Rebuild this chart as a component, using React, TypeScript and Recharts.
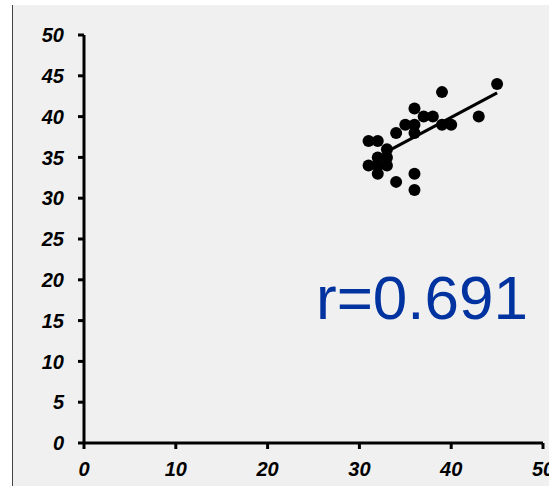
import React from "react";
import { ScatterChart, Scatter, XAxis, YAxis } from "recharts";

const xValues = [45, 39, 36, 37, 38, 43, 35, 36, 39, 40, 36, 34, 31, 32, 33, 32, 33, 31, 33, 32, 34, 36, 36, 32];
const yValues = [44, 43, 41, 40, 40, 40, 39, 39, 39, 39, 38, 38, 37, 37, 36, 35, 35, 34, 34, 33, 32, 33, 31, 34];

// regression line end points
const fitX = [33, 45];
const fitY = [35.7, 42.9];

const xTicks = [0, 10, 20, 30, 40, 50];
const yTicks = [0, 5, 10, 15, 20, 25, 30, 35, 40, 45, 50];

const rLabel = "r=0.691";

const points = xValues.map((x, i) => ({ x, y: yValues[i] }));
const fit = fitX.map((x, i) => ({ x, y: fitY[i] }));

const tickFont = {
  fill: "#000",
  fontSize: 20,
  fontWeight: 700,
  fontStyle: "italic",
  fontFamily: "Liberation Sans, Arial, sans-serif",
};

const App = () => {
  return (
    <div
      style={{
        position: "absolute",
        left: 0,
        top: 0,
        width: 549,
        height: 486,
        background: "#fff",
        overflow: "hidden",
      }}
    >
      <div
        style={{
          position: "absolute",
          left: 12,
          top: 5,
          width: 537,
          height: 481,
          background: "#f0f0f0",
          borderLeft: "1px solid #444",
        }}
      />
      <div style={{ position: "absolute", left: 0, top: 0 }}>
        <ScatterChart
          width={549}
          height={486}
          margin={{ top: 35, right: 6, left: 0, bottom: 0 }}
        >
          <XAxis
            type="number"
            dataKey="x"
            domain={[0, 50]}
            ticks={xTicks}
            height={43}
            tickSize={6}
            tickMargin={13}
            axisLine={{ stroke: "#000", strokeWidth: 3 }}
            tickLine={{ stroke: "#000", strokeWidth: 3 }}
            tick={tickFont}
            interval={0}
          />
          <YAxis
            type="number"
            dataKey="y"
            domain={[0, 50]}
            ticks={yTicks}
            width={84}
            tickSize={6}
            tickMargin={14}
            axisLine={{ stroke: "#000", strokeWidth: 3 }}
            tickLine={{ stroke: "#000", strokeWidth: 3 }}
            tick={tickFont}
            interval={0}
          />
          <Scatter
            data={fit}
            line={{ stroke: "#000", strokeWidth: 3 }}
            shape={() => <g />}
            isAnimationActive={false}
          />
          <Scatter
            data={points}
            fill="#000"
            shape={(p: any) => <circle cx={p.cx} cy={p.cy} r={6} fill="#000" />}
            isAnimationActive={false}
          />
        </ScatterChart>
      </div>
      <div
        style={{
          position: "absolute",
          left: 316,
          top: 267,
          fontSize: 62,
          lineHeight: "62px",
          color: "#0033a0",
          fontFamily: "Liberation Sans, Arial, sans-serif",
          whiteSpace: "nowrap",
        }}
      >
        {rLabel}
      </div>
    </div>
  );
};

export default App;
